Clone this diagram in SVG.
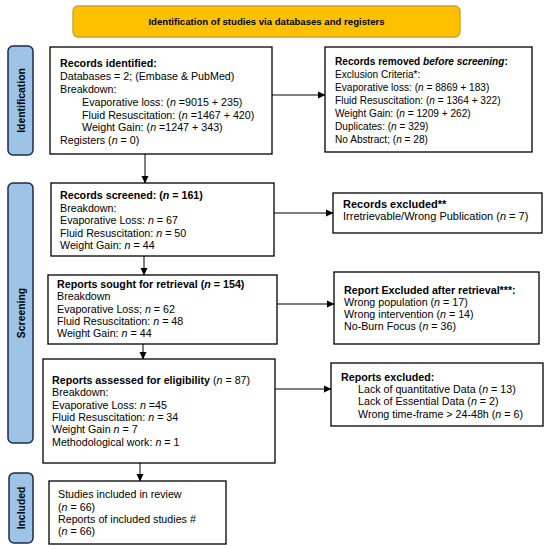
<svg xmlns="http://www.w3.org/2000/svg" width="550" height="549" viewBox="0 0 550 549">
<defs>
<marker id="ah" markerWidth="8" markerHeight="8" refX="7" refY="4" orient="auto" markerUnits="userSpaceOnUse">
<path d="M0,0.5 L7.5,4 L0,7.5 Z" fill="#000"/>
</marker>
</defs>
<style>
text{font-family:"Liberation Sans",Arial,sans-serif;font-size:10.7px;fill:#000}
.b{font-weight:bold}
.i{font-style:italic}
.sm text{font-size:10.1px}
.lg text{font-size:11px}
.box{fill:#fff;stroke:#000;stroke-width:1.3}
.tab{fill:#9DC3E6;stroke:#1F2A44;stroke-width:1.5}
.tt{font-weight:bold;font-size:10.4px;text-anchor:middle}
.c{stroke:#000;stroke-width:1;fill:none;marker-end:url(#ah)}
</style>
<rect width="550" height="549" fill="#fff"/>
<g id="banner">
<rect x="73" y="6" width="387" height="31" rx="5" fill="#FFC000" stroke="#C9A227" stroke-width="1.3"/>
<text x="266.5" y="25" class="b" text-anchor="middle" style="font-size:9.6px">Identification of studies via databases and registers</text>
</g>
<g id="tab-identification">
<rect class="tab" x="8" y="46" width="25" height="109" rx="5"/>
<text class="tt" transform="translate(24.5,100.5) rotate(-90)">Identification</text>
</g>
<g id="tab-screening">
<rect class="tab" x="8" y="183" width="25" height="260" rx="5"/>
<text class="tt" transform="translate(24.5,313) rotate(-90)">Screening</text>
</g>
<g id="tab-included">
<rect class="tab" x="9" y="473" width="24" height="70" rx="5"/>
<text class="tt" transform="translate(24.5,508) rotate(-90)">Included</text>
</g>
<g id="connectors">
<line class="c" x1="272" y1="95" x2="325" y2="95"/>
<line class="c" x1="145" y1="154" x2="145" y2="183"/>
<line class="c" x1="274" y1="213" x2="333" y2="213"/>
<line class="c" x1="144" y1="256" x2="144" y2="275"/>
<line class="c" x1="277" y1="304" x2="334" y2="304"/>
<line class="c" x1="143" y1="344" x2="143" y2="359"/>
<line class="c" x1="275" y1="389" x2="331" y2="389"/>
<line class="c" x1="140" y1="463" x2="140" y2="481"/>
</g>
<g id="records-identified">
<rect class="box" x="50" y="47" width="222" height="107"/>
<text x="60" y="67" class="b">Records identified:</text>
<text x="60" y="80">Databases = 2; (Embase &amp; PubMed)</text>
<text x="60" y="93">Breakdown:</text>
<text x="82" y="106">Evaporative loss: (<tspan class="i">n</tspan> =9015 + 235)</text>
<text x="82" y="118.5">Fluid Resuscitation: (<tspan class="i">n</tspan> =1467 + 420)</text>
<text x="82" y="131">Weight Gain: (<tspan class="i">n</tspan> =1247 + 343)</text>
<text x="60" y="143.5">Registers (<tspan class="i">n</tspan> = 0)</text>
</g>
<g id="records-removed" class="sm">
<rect class="box" x="325" y="47" width="207" height="105"/>
<text x="335" y="65" class="b">Records removed <tspan class="i">before screening</tspan>:</text>
<text x="335" y="78">Exclusion Criteria*:</text>
<text x="335" y="91">Evaporative loss: (<tspan class="i">n</tspan> = 8869 + 183)</text>
<text x="335" y="104">Fluid Resuscitation: (<tspan class="i">n</tspan> = 1364 + 322)</text>
<text x="335" y="117">Weight Gain: (<tspan class="i">n</tspan> = 1209 + 262)</text>
<text x="335" y="130">Duplicates: (<tspan class="i">n</tspan> = 329)</text>
<text x="335" y="143">No Abstract; (<tspan class="i">n</tspan> = 28)</text>
</g>
<g id="records-screened">
<rect class="box" x="51" y="183" width="223" height="73"/>
<text x="60" y="199" class="b">Records screened: (<tspan class="i">n</tspan> = 161)</text>
<text x="60" y="211.5">Breakdown:</text>
<text x="60" y="224">Evaporative Loss: <tspan class="i">n</tspan> = 67</text>
<text x="60" y="236.5">Fluid Resuscitation: <tspan class="i">n</tspan> = 50</text>
<text x="60" y="249">Weight Gain: <tspan class="i">n</tspan> = 44</text>
</g>
<g id="records-excluded" class="lg">
<rect class="box" x="333" y="193" width="209" height="40"/>
<text x="343" y="207.5" class="b">Records excluded**</text>
<text x="343" y="220">Irretrievable/Wrong Publication (<tspan class="i">n</tspan> = 7)</text>
</g>
<g id="reports-sought">
<rect class="box" x="48" y="275" width="229" height="69"/>
<text x="57" y="288" class="b">Reports sought for retrieval (<tspan class="i">n</tspan> = 154)</text>
<text x="57" y="300">Breakdown</text>
<text x="57" y="312.5">Evaporative Loss; <tspan class="i">n</tspan> = 62</text>
<text x="57" y="325">Fluid Resuscitation: <tspan class="i">n</tspan> = 48</text>
<text x="57" y="337">Weight Gain: <tspan class="i">n</tspan> = 44</text>
</g>
<g id="reports-excluded-retrieval">
<rect class="box" x="334" y="272" width="205" height="72"/>
<text x="344" y="294" class="b">Report Excluded after retrieval***:</text>
<text x="344" y="306">Wrong population (<tspan class="i">n</tspan> = 17)</text>
<text x="344" y="318">Wrong intervention (<tspan class="i">n</tspan> = 14)</text>
<text x="344" y="330">No-Burn Focus (<tspan class="i">n</tspan> = 36)</text>
</g>
<g id="reports-assessed">
<rect class="box" x="43" y="359" width="232" height="104"/>
<text x="52" y="384"><tspan class="b">Reports assessed for eligibility</tspan> (<tspan class="i">n</tspan> = 87)</text>
<text x="52" y="396">Breakdown:</text>
<text x="52" y="409">Evaporative Loss: <tspan class="i">n</tspan> =45</text>
<text x="52" y="421">Fluid Resuscitation: <tspan class="i">n</tspan> = 34</text>
<text x="52" y="433">Weight Gain <tspan class="i">n</tspan> = 7</text>
<text x="52" y="446">Methodological work: <tspan class="i">n</tspan> = 1</text>
</g>
<g id="reports-excluded">
<rect class="box" x="331" y="363" width="212" height="63"/>
<text x="341" y="381" class="b">Reports excluded:</text>
<text x="358" y="393">Lack of quantitative Data (<tspan class="i">n</tspan> = 13)</text>
<text x="358" y="405">Lack of Essential Data (<tspan class="i">n</tspan> = 2)</text>
<text x="358" y="418">Wrong time-frame &gt; 24-48h (<tspan class="i">n</tspan> = 6)</text>
</g>
<g id="studies-included">
<rect class="box" x="49" y="481" width="177" height="63"/>
<text x="58" y="498">Studies included in review</text>
<text x="58" y="510.5">(<tspan class="i">n</tspan> = 66)</text>
<text x="58" y="523">Reports of included studies #</text>
<text x="58" y="535">(<tspan class="i">n</tspan> = 66)</text>
</g>
</svg>
